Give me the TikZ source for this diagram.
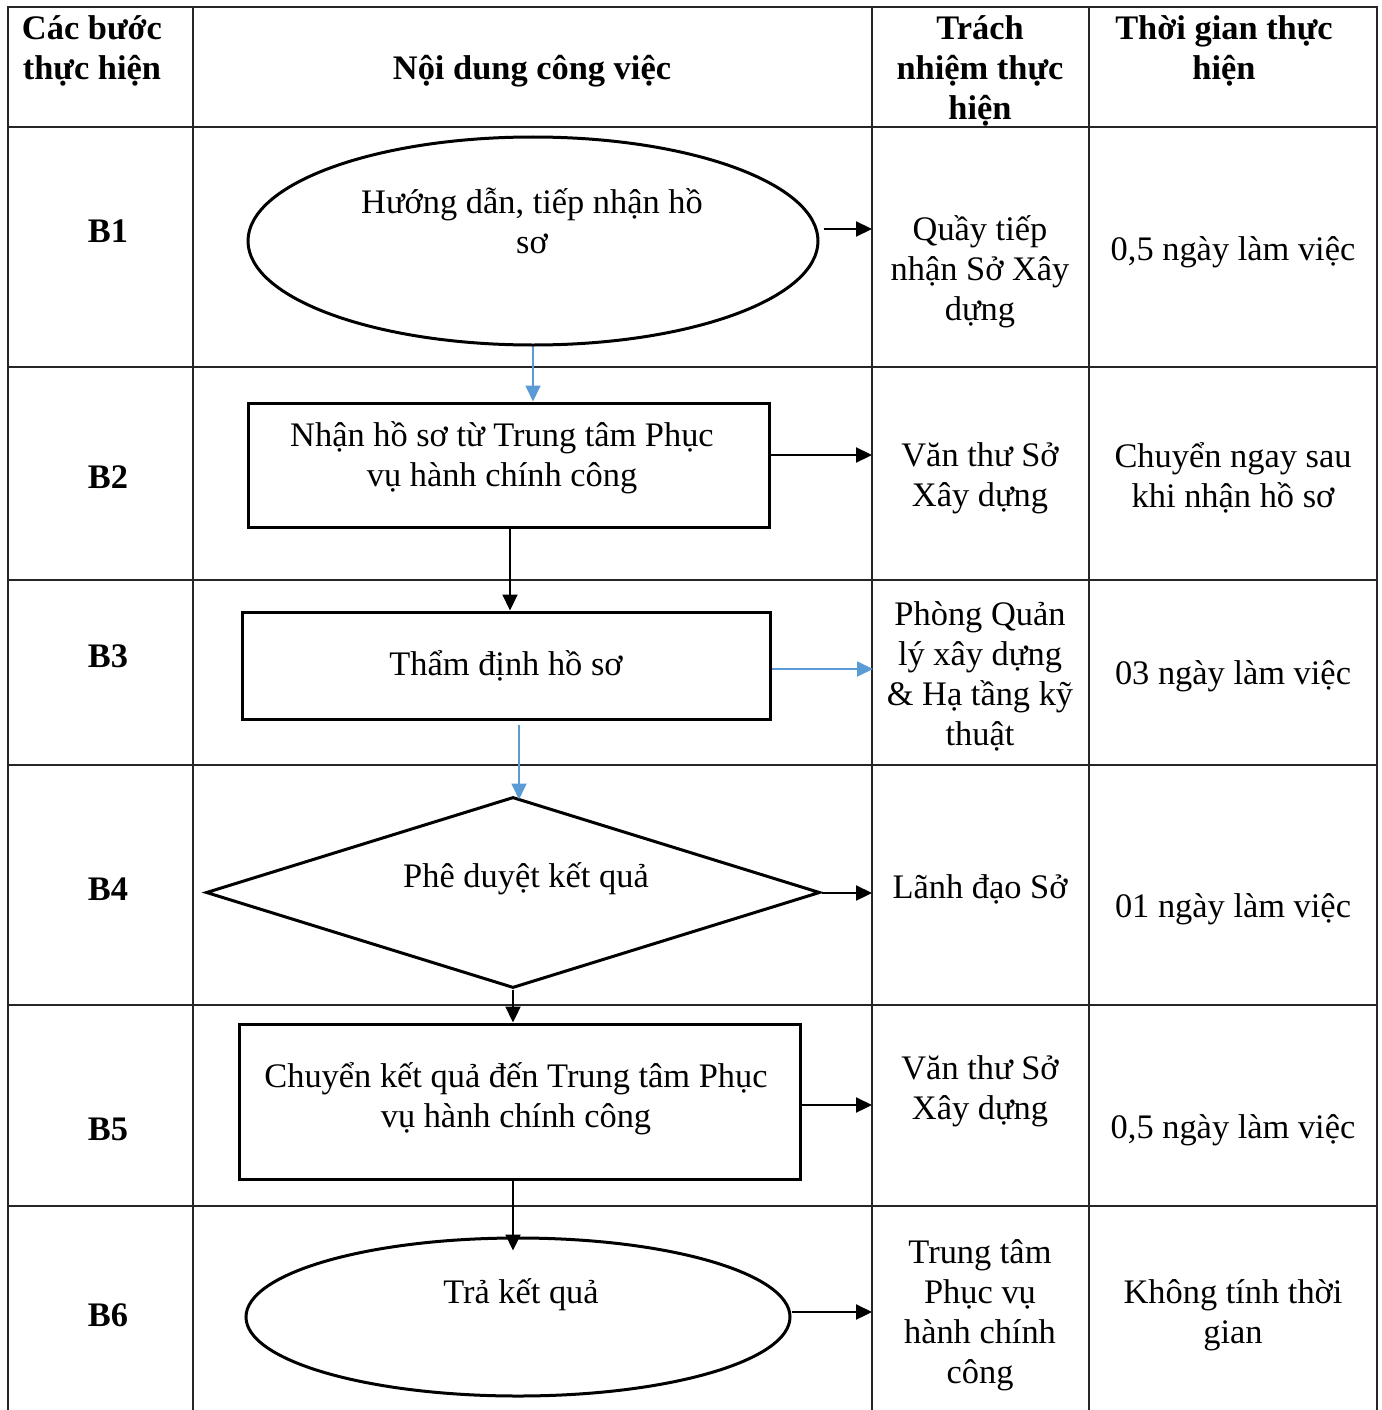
\documentclass[tikz,border=0pt]{standalone}
\usepackage{fontspec}
\setmainfont{Liberation Serif}
\usetikzlibrary{arrows.meta,shapes.geometric}
\definecolor{arrowblue}{HTML}{5B9BD5}
\begin{document}
\begin{tikzpicture}[x=1pt,y=-1pt,
  grid/.style={line width=1.4pt, draw=black!85},
  shp/.style={draw=black, line width=3pt, inner sep=0pt},
  txt/.style={font=\fontsize{34.4}{40}\selectfont, align=center, inner sep=0pt, yshift=-3pt},
  hdr/.style={font=\fontsize{34.4}{40}\selectfont\bfseries, align=center, inner sep=0pt, yshift=-3pt},
  blk/.style={-{Triangle[length=16pt,width=15pt]}, line width=2.2pt, draw=black},
  blu/.style={-{Triangle[length=16pt,width=15pt]}, line width=1.8pt, draw=arrowblue, color=arrowblue},
]
\fill[white] (0,0) rectangle (1381,1410);
\useasboundingbox (0,0) rectangle (1381,1410);
% table grid
\draw[grid] (8,1410) -- (8,7) -- (1377,7) -- (1377,1410);
\foreach \xx in {193,872,1089} \draw[grid] (\xx,7) -- (\xx,1410);
\foreach \yy in {127,367,580,765,1005,1206} \draw[grid] (8,\yy) -- (1377,\yy);
% header
\node[hdr] (h1) at (92,48) {Các bước\\thực hiện};
\node[hdr] (h2) at (532,68) {Nội dung công việc};
\node[hdr] (h3) at (980,68) {Trách\\nhiệm thực\\hiện};
\node[hdr] (h4) at (1224,48) {Thời gian thực\\hiện};
% step labels
\node[hdr] (k1) at (108,228) {B1};
\node[hdr] (k2) at (108,474) {B2};
\node[hdr] (k3) at (108,653) {B3};
\node[hdr] (k4) at (108,886) {B4};
\node[hdr] (k5) at (108,1126) {B5};
\node[hdr] (k6) at (108,1312) {B6};
% responsibility
\node[txt] (s1) at (980,269) {Quầy tiếp\\nhận Sở Xây\\dựng};
\node[txt] (s2) at (980,475) {Văn thư Sở\\Xây dựng};
\node[txt] (s3) at (980,673) {Phòng Quản\\lý xây dựng\\\& Hạ tầng kỹ\\thuật};
\node[txt] (s4) at (980,886) {Lãnh đạo Sở};
\node[txt] (s5) at (980,1088) {Văn thư Sở\\Xây dựng};
\node[txt] (s6) at (980,1312) {Trung tâm\\Phục vụ\\hành chính\\công};
% time
\node[txt] (u1) at (1233,249) {0,5 ngày làm việc};
\node[txt] (u2) at (1233,475) {Chuyển ngay sau\\khi nhận hồ sơ};
\node[txt] (u3) at (1233,673) {03 ngày làm việc};
\node[txt] (u4) at (1233,906) {01 ngày làm việc};
\node[txt] (u5) at (1233,1127) {0,5 ngày làm việc};
\node[txt] (u6) at (1233,1312) {Không tính thời\\gian};
% arrow targets on column border
\coordinate (r1) at (872,229);
\coordinate (r2) at (872,455);
\coordinate (r3) at (873,669);
\coordinate (r4) at (872,893);
\coordinate (r5) at (872,1105);
\coordinate (r6) at (872,1312);
% flow shapes
\node[shp, ellipse, minimum width=570, minimum height=208] (b1) at (533,241) {};
\node[txt] (t1) at (532,218) {Hướng dẫn, tiếp nhận hồ\\sơ};
\node[shp, rectangle, minimum width=521, minimum height=124] (b2) at (508.5,465) {};
\node[txt] (t2) at (502,455) {Nhận hồ sơ từ Trung tâm Phục\\vụ hành chính công};
\node[shp, rectangle, minimum width=528, minimum height=107] (b3) at (506,665.5) {};
\node[txt] (t3) at (506,663) {Thẩm định hồ sơ};
\node[shp, diamond, minimum width=614, minimum height=191] (d4) at (513,892.5) {};
\node[txt] (t4) at (526,876) {Phê duyệt kết quả};
\node[shp, rectangle, minimum width=561, minimum height=155] (b5) at (519.5,1101.5) {};
\node[txt] (t5) at (516,1096) {Chuyển kết quả đến Trung tâm Phục\\vụ hành chính công};
\node[shp, ellipse, minimum width=544, minimum height=158] (b6) at (518,1317) {};
\node[txt] (t6) at (521,1292) {Trả kết quả};
% connectors
\draw[blk] ([xshift=4pt]b1.east |- r1) -- (r1);
\draw[blu] (b1.south) -- (b1.south |- b2.north);
\draw[blk] (b2.east |- r2) -- (r2);
\draw[blk] (b2.south -| 510,0) -- (510,0 |- b3.north);
\draw[blu] (b3.east |- r3) -- (r3);
\draw[blu, shorten <=4pt, shorten >=-4pt] (b3.south -| 519,0) -- (519,0 |- d4.north);
\draw[blk] (d4.east |- r4) -- (r4);
\draw[blk] (d4.south) -- (d4.south |- b5.north);
\draw[blk] (b5.east |- r5) -- (r5);
\draw[blk, shorten >=-14pt] (b5.south -| d4.south) -- (d4.south |- b6.north);
\draw[blk] (b6.east |- r6) -- (r6);
\end{tikzpicture}
\end{document}
